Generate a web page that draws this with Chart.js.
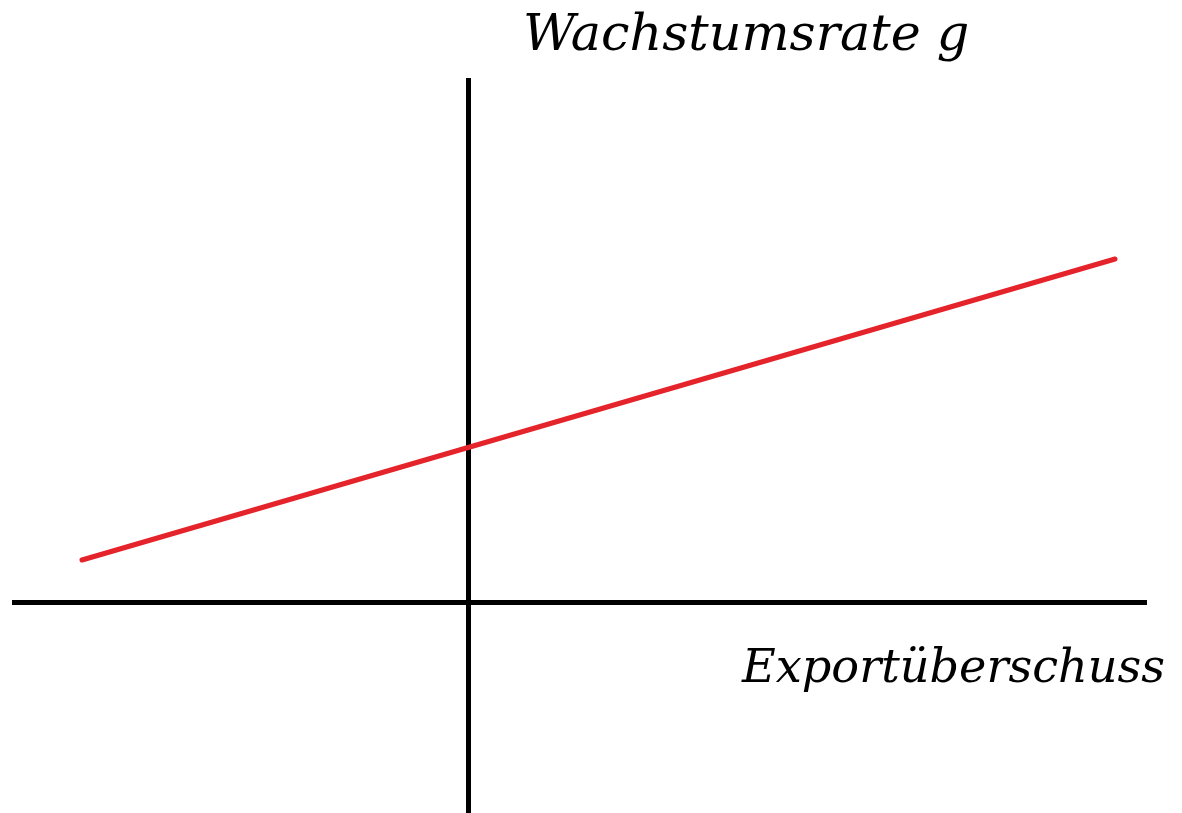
<!DOCTYPE html>
<html>
<head>
<meta charset="utf-8">
<script src="https://cdn.jsdelivr.net/npm/chart.js@4/dist/chart.umd.min.js"></script>
<style>
  html, body { margin: 0; padding: 0; background: #ffffff; }
  #wrap { position: relative; width: 1182px; height: 813px; }
</style>
</head>
<body>
<div id="wrap"><canvas id="c" width="1182" height="813"></canvas></div>
<script>
// Data (units: arbitrary)
const lineX = [-3.86, 6.47];
const lineY = [0.43, 3.44];
const xAxisTitle = "Exportüberschuss";
const yAxisTitle = "Wachstumsrate g";
const xRange = [-4.56, 6.79];
const yRange = [-2.10, 5.25];

const points = lineX.map((x, i) => ({ x: x, y: lineY[i] }));

const zeroOnly = (scale) => { scale.ticks = [{ value: 0 }]; };
const axisColor = (ctx) => (ctx.tick && ctx.tick.value === 0) ? '#000000' : 'rgba(0,0,0,0)';

const labelPlugin = {
  id: 'axisLabels',
  afterDraw(chart) {
    const ctx = chart.ctx;
    const xs = chart.scales.x, ys = chart.scales.y;
    ctx.save();
    ctx.fillStyle = '#000000';
    ctx.textBaseline = 'alphabetic';
    ctx.textAlign = 'left';
    function fitText(text, left, baseline, width) {
      ctx.font = 'italic 50px "DejaVu Serif"';
      const w = ctx.measureText(text).width;
      const size = 50 * width / w;
      ctx.font = 'italic ' + size.toFixed(1) + 'px "DejaVu Serif"';
      ctx.fillText(text, left, baseline);
    }
    // y-axis title near top, right of vertical axis
    fitText(yAxisTitle, xs.getPixelForValue(0) + 55, 50, 446);
    // x-axis title below the horizontal axis, right side
    fitText(xAxisTitle, xs.getPixelForValue(0) + 274, ys.getPixelForValue(0) + 79, 423);
    ctx.restore();
  }
};

new Chart(document.getElementById('c'), {
  type: 'scatter',
  data: {
    datasets: [{
      data: points,
      showLine: true,
      borderColor: '#e4232a',
      backgroundColor: '#e4232a',
      borderWidth: 5,
      borderCapStyle: 'round',
      pointRadius: 0,
      pointHoverRadius: 0,
      fill: false
    }]
  },
  options: {
    responsive: false,
    animation: false,
    events: [],
    layout: { padding: { left: 12, right: 35, top: 78, bottom: 0 } },
    plugins: { legend: { display: false }, tooltip: { enabled: false }, title: { display: false } },
    scales: {
      x: {
        type: 'linear', min: xRange[0], max: xRange[1],
        afterBuildTicks: zeroOnly,
        ticks: { display: false },
        border: { display: false },
        grid: { color: axisColor, lineWidth: 5, drawTicks: false }
      },
      y: {
        type: 'linear', min: yRange[0], max: yRange[1],
        afterBuildTicks: zeroOnly,
        ticks: { display: false },
        border: { display: false },
        grid: { color: axisColor, lineWidth: 5, drawTicks: false }
      }
    }
  },
  plugins: [labelPlugin]
});
</script>
</body>
</html>
